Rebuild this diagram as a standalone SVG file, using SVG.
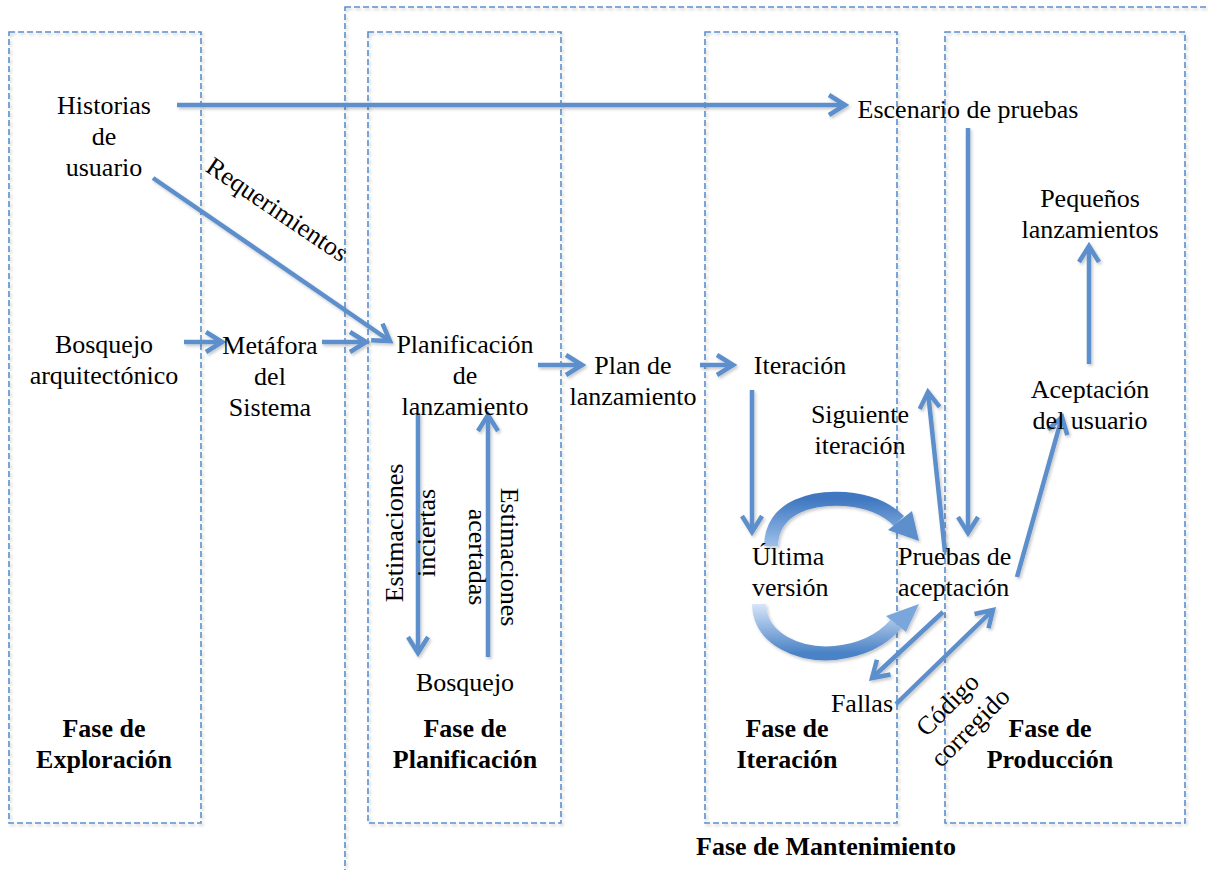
<svg xmlns="http://www.w3.org/2000/svg" width="1208" height="870" viewBox="0 0 1208 870">
<defs>
<style>
.t{font-family:"Liberation Serif","Times New Roman",serif;font-size:26px;fill:#000}
.c{text-anchor:middle}
.b{font-weight:bold;font-size:26px}
.box{fill:none;stroke:#5b8fcd;stroke-width:1.6;stroke-dasharray:6 3}
.a{fill:none;stroke:#5b8fcb;stroke-width:4.5;marker-end:url(#ah)}
</style>
<filter id="sh" x="-10%" y="-10%" width="130%" height="130%">
<feDropShadow dx="1.5" dy="2" stdDeviation="1.5" flood-color="#000" flood-opacity="0.22"/>
</filter>
<marker id="ah" markerUnits="userSpaceOnUse" viewBox="0 0 24 24" markerWidth="24" markerHeight="24" refX="20" refY="12" orient="auto">
<path d="M4,2 L20,12 L4,22" fill="none" stroke="#5b8fcb" stroke-width="4.5"/>
</marker>
<linearGradient id="gTop" x1="0" y1="0" x2="0" y2="1">
<stop offset="0" stop-color="#3f77c0"/>
<stop offset="1" stop-color="#9cc0ea"/>
</linearGradient>
<linearGradient id="gBot" x1="0" y1="0" x2="0" y2="1">
<stop offset="0" stop-color="#d6e5f8"/>
<stop offset="1" stop-color="#4a82c6"/>
</linearGradient>
</defs>
<rect width="1208" height="870" fill="#fff"/>

<g id="fases" filter="url(#sh)">
<rect class="box" x="345" y="7" width="1000" height="1000"/>
<rect class="box" x="9" y="32" width="192" height="791"/>
<rect class="box" x="368" y="32" width="193" height="791"/>
<rect class="box" x="705" y="32" width="192" height="791"/>
<rect class="box" x="945" y="32" width="240" height="791"/>
</g>

<g id="connectors" filter="url(#sh)">
<path class="a" d="M177,105 L845,105"/>
<path class="a" d="M153,178 L390,341"/>
<path class="a" d="M184,342 L222,342"/>
<path class="a" d="M322,342 L366,342"/>
<path class="a" d="M538,365 L582,365"/>
<path class="a" d="M700,365 L733,365"/>
<path class="a" d="M752,390 L752,532"/>
<path class="a" d="M945,552 L928,392"/>
<path class="a" d="M968,128 L968,533"/>
<path class="a" d="M943,612 L872,678"/>
<path class="a" d="M896,704 L993,610"/>
<path class="a" d="M1017,577 L1062,417"/>
<path class="a" d="M1089,364 L1089,246"/>
<path class="a" d="M418,413 L418,653"/>
<path class="a" d="M488,657 L488,415"/>
<g id="ciclo">
<path d="M771,546 C 772,505 815,497 845,499 C 870,501 888,510 899,521" fill="none" stroke="url(#gTop)" stroke-width="14"/>
<path d="M888,530 L912,511 L919,541 Z" fill="#5b8fcb"/>
<path d="M759,604 C 760,640 800,656 835,653 C 863,650 882,640 896,624" fill="none" stroke="url(#gBot)" stroke-width="14"/>
<path d="M886,616 L906,632 L919,604 Z" fill="#7aa6dc"/>
</g>
</g>

<g id="historias"><text class="t c" x="104" y="114">Historias<tspan x="104" y="145">de</tspan><tspan x="104" y="176">usuario</tspan></text></g>
<g id="requerimientos"><text class="t c" transform="translate(277,210) rotate(34)" y="8">Requerimientos</text></g>
<g id="bosquejo-arq"><text class="t c" x="104" y="353">Bosquejo<tspan x="104" y="384">arquitectónico</tspan></text></g>
<g id="metafora"><text class="t c" x="270" y="354">Metáfora<tspan x="270" y="385">del</tspan><tspan x="270" y="416">Sistema</tspan></text></g>
<g id="planificacion"><text class="t c" x="465" y="353">Planificación<tspan x="465" y="384">de</tspan><tspan x="465" y="415">lanzamiento</tspan></text></g>
<g id="est-inciertas"><text class="t c" transform="translate(403,533) rotate(-90)">Estimaciones<tspan x="0" y="32">inciertas</tspan></text></g>
<g id="est-acertadas"><text class="t c" transform="translate(501,557) rotate(90)">Estimaciones<tspan x="0" y="32">acertadas</tspan></text></g>
<g id="bosquejo"><text class="t c" x="465" y="691">Bosquejo</text></g>
<g id="plan"><text class="t c" x="633" y="374">Plan de<tspan x="633" y="405">lanzamiento</tspan></text></g>
<g id="iteracion"><text class="t c" x="800" y="374">Iteración</text></g>
<g id="escenario"><text class="t c" x="968" y="118">Escenario de pruebas</text></g>
<g id="siguiente"><text class="t c" x="860" y="423">Siguiente<tspan x="860" y="454">iteración</tspan></text></g>
<g id="ultima"><text class="t" x="752" y="565">Última<tspan x="752" y="596">versión</tspan></text></g>
<g id="pruebas"><text class="t" x="898" y="565">Pruebas de<tspan x="898" y="596">aceptación</tspan></text></g>
<g id="fallas"><text class="t" x="893" y="712" text-anchor="end">Fallas</text></g>
<g id="codigo"><text class="t c" transform="translate(948,705) rotate(-45)"><tspan x="0" y="8">Código</tspan><tspan x="0" y="40">corregido</tspan></text></g>
<g id="pequenos"><text class="t c" x="1090" y="207">Pequeños<tspan x="1090" y="238">lanzamientos</tspan></text></g>
<g id="aceptacion"><text class="t c" x="1090" y="398">Aceptación<tspan x="1090" y="429">del usuario</tspan></text></g>

<g id="titulos">
<text class="t c b" x="104" y="737">Fase de<tspan x="104" y="768">Exploración</tspan></text>
<text class="t c b" x="465" y="737">Fase de<tspan x="465" y="768">Planificación</tspan></text>
<text class="t c b" x="787" y="737">Fase de<tspan x="787" y="768">Iteración</tspan></text>
<text class="t c b" x="1050" y="737">Fase de<tspan x="1050" y="768">Producción</tspan></text>
<text class="t c b" x="826" y="855">Fase de Mantenimiento</text>
</g>
</svg>
